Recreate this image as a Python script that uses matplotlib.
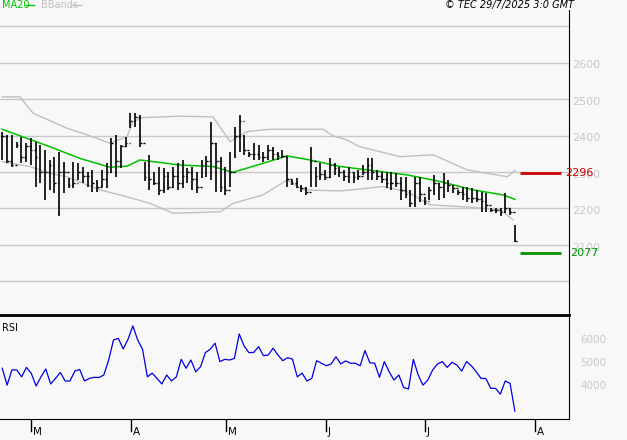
import numpy as np
import matplotlib
matplotlib.use("Agg")
import matplotlib.pyplot as plt
from matplotlib.transforms import blended_transform_factory as btf

highs = [2410,2401,2401,2383,2397,2379,2392,2383,2374,2360,2333,2342,2356,2328,2283,2328,2324,2315,2301,2305,2278,2305,2324,2392,2401,2374,2397,2461,2461,2456,2328,2347,2301,2315,2310,2301,2315,
         2324,2333,2310,2315,2301,2333,2344,2438,2379,2342,2315,2356,2424,2456,2401,2356,2379,2374,2356,2374,2369,2356,2360,2342,2278,2283,2264,2260,2369,2315,2324,2305,2337,2324,2315,2305,2315,
         2301,2306,2319,2338,2338,2306,2301,2301,2301,2296,2287,2287,2251,2287,2287,2232,2260,2292,2269,2296,2278,2264,2251,2260,2260,2255,2251,2246,2242,2201,2201,2201,2242,2201,2155]
lows = [2333,2324,2313,2365,2324,2328,2319,2260,2269,2223,2251,2242,2178,2242,2255,2255,2278,2269,2260,2246,2246,2260,2255,2296,2287,2310,2369,2420,2424,2369,2274,2251,2264,2237,2242,2251,2255,
        2251,2255,2269,2251,2242,2283,2287,2278,2246,2246,2237,2260,2337,2356,2347,2342,2333,2333,2328,2333,2333,2333,2337,2260,2264,2255,2246,2237,2260,2260,2278,2278,2283,2292,2287,2274,2269,
        2269,2278,2292,2278,2278,2278,2269,2255,2251,2260,2223,2228,2205,2205,2219,2210,2223,2237,2223,2228,2246,2242,2237,2223,2219,2214,2219,2191,2191,2191,2187,2178,2187,2182,2109]
closes = [2400,2330,2320,2375,2340,2370,2360,2340,2300,2300,2320,2270,2300,2300,2265,2270,2300,2290,2290,2270,2260,2280,2300,2380,2330,2370,2380,2440,2450,2380,2285,2280,2270,2250,2290,2260,2290,
          2270,2290,2300,2280,2260,2320,2330,2380,2330,2260,2250,2300,2400,2440,2360,2350,2350,2340,2340,2360,2350,2345,2345,2280,2270,2260,2255,2245,2330,2290,2295,2285,2320,2310,2300,2290,2300,
          2285,2290,2300,2320,2300,2290,2280,2270,2270,2270,2250,2240,2215,2270,2240,2220,2250,2270,2260,2270,2265,2255,2245,2240,2230,2230,2225,2220,2210,2195,2195,2190,2200,2190,2110]

ma_x = [0,10.1,16.4,22.7,26.3,29.0,37.5,44.4,48.6,53.7,60.0,64.8,71.2,85.3,92.2,99.2,105.5,108]
ma_v = [2417,2369,2337,2313,2316,2333,2319,2315,2299,2319,2344,2333,2315,2292,2274,2251,2237,2225]
up_x = [0,3.7,6.5,13.6,17.0,22.7,26.3,27.5,29.7,37.5,44.4,48.0,51.6,56.4,67.6,69.7,72.2,75.4,83.8,90.8,97.9,106.4,108]
up_v = [2506,2506,2461,2420,2406,2379,2397,2438,2449,2453,2451,2383,2411,2417,2417,2399,2390,2369,2342,2347,2306,2287,2304]
lo_x = [0,5.8,10.1,13.6,20.6,26.3,31.1,36.0,45.9,48.6,54.9,60.0,63.4,71.2,80.2,85.3,90.1,99.2,104.9,107.6]
lo_v = [2328,2315,2296,2287,2251,2232,2214,2187,2191,2214,2237,2278,2251,2248,2260,2246,2210,2203,2196,2169]

rsi = [47.7,40.4,47.0,47.0,44.0,48.1,45.5,40.0,44.0,47.4,40.9,43.3,45.9,42.2,42.2,46.5,47.2,42.2,43.3,43.8,43.7,44.8,51.3,60.0,60.7,56.1,60.3,66.1,60.0,56.0,
       44.0,45.6,43.3,40.9,44.8,42.2,44.0,51.6,47.7,51.3,46.2,48.4,54.5,56.0,58.6,50.6,51.6,51.3,52.0,62.6,57.4,54.5,54.6,57.1,53.2,53.5,56.4,53.5,51.0,52.3,
       51.7,44.0,45.6,42.2,43.3,51.0,49.9,48.8,49.6,52.7,49.6,50.9,49.9,49.9,48.8,55.4,50.1,49.9,43.8,50.6,46.2,42.6,44.8,39.4,38.7,51.6,44.8,40.4,42.6,47.0,
       49.6,50.6,48.1,50.3,49.1,46.5,50.6,48.8,46.2,43.3,43.3,39.0,39.0,36.5,42.2,41.2,29.1]

months = ["M", "A", "M", "J", "J", "A"]
month_pos = [6.1, 27.1, 47.1, 68.2, 89.0, 112.3]
price_ticks = [2100, 2200, 2300, 2400, 2500, 2600]
rsi_ticks = [40, 50, 60]
resist, support = 2296, 2077

BG = "#f8f8f8"; GRID = "#c8c8c8"
W, H = 627, 440
fig = plt.figure(figsize=(W/100, H/100), dpi=100, facecolor=BG)
XL = (-0.48, 119.4)

ax = fig.add_axes([0, (H-315)/H, 569/W, 305/H], facecolor=BG)
ax.set_xlim(*XL); ax.set_ylim(1908, 2744)
for s in ax.spines.values(): s.set_visible(False)
ax.spines["right"].set_visible(True); ax.spines["right"].set_color("black")
ax.set_xticks([]); ax.set_yticks([])
for g in range(2000, 2800, 100):
    ax.axhline(g, color=GRID, lw=1, zorder=0)
ax.plot(up_x, up_v, color="#c0c0c0", lw=1)
ax.plot(lo_x, lo_v, color="#c0c0c0", lw=1)
ax.plot(ma_x, ma_v, color="#00c000", lw=1.1)
x = np.arange(len(closes))
opens = [closes[0]] + closes[:-1]
ax.vlines(x, lows, highs, color="black", lw=1.2)
ax.hlines(opens, x-0.35, x, color="black", lw=1)
ax.hlines(closes, x, x+0.35, color="black", lw=1)
ax.hlines(resist, 109.1, 117.7, color="#d00000", lw=2)
ax.hlines(support, 109.1, 117.7, color="#009000", lw=2)
tr = btf(fig.transFigure, ax.transData)
for p in price_ticks:
    ax.text(572/W, p-7, str(p), transform=tr, color=GRID, fontsize=8, va="center", ha="left")
ax.text(565/W, resist, str(resist), transform=tr, color="#d00000", fontsize=8, va="center")
ax.text(570/W, support, str(support), transform=tr, color="#009000", fontsize=8, va="center")

ax2 = fig.add_axes([0, 21/H, 569/W, 103/H], facecolor=BG)
ax2.set_xlim(*XL); ax2.set_ylim(25.7, 70.4)
for s in ax2.spines.values(): s.set_visible(False)
ax2.spines["right"].set_visible(True); ax2.spines["bottom"].set_visible(True)
ax2.set_yticks([]); ax2.set_xticks([])
ax2.plot(np.linspace(0, 108, len(rsi)), rsi, color="#0000e0", lw=0.9)
ax2.text(0.004, 0.93, "RSI", transform=ax2.transAxes, fontsize=7, va="top")
tr2 = btf(fig.transFigure, ax2.transData)
for r in rsi_ticks:
    ax2.text(580/W, r, f"{r}00", transform=tr2, color=GRID, fontsize=7.5, va="center")
trx = btf(ax2.transData, fig.transFigure)
for m, p in zip(months, month_pos):
    fig.lines.append(plt.Line2D([p, p], [(H-420)/H, (H-431)/H], transform=trx, color="black", lw=1))
    fig.text(p + 0.4, (H-432)/H, m, transform=trx, fontsize=7.5, va="center", ha="left")
fig.lines.append(plt.Line2D([0, 569/W], [(H-315)/H]*2, transform=fig.transFigure, color="black", lw=2))

fig.text(2/W, (H-5)/H, "MA20", color="#00c000", fontsize=7, va="center")
fig.lines.append(plt.Line2D([26/W, 34/W], [(H-5)/H]*2, transform=fig.transFigure, color="#00c000", lw=1))
fig.text(41/W, (H-5)/H, "BBands", color="#c0c0c0", fontsize=7, va="center")
fig.lines.append(plt.Line2D([71/W, 81/W], [(H-5)/H]*2, transform=fig.transFigure, color="#c0c0c0", lw=1))
fig.text(574/W, (H-5)/H, "© TEC 29/7/2025 3:0 GMT", fontsize=7, style="italic", va="center", ha="right")

fig.savefig("out.png", dpi=100, facecolor=BG)
